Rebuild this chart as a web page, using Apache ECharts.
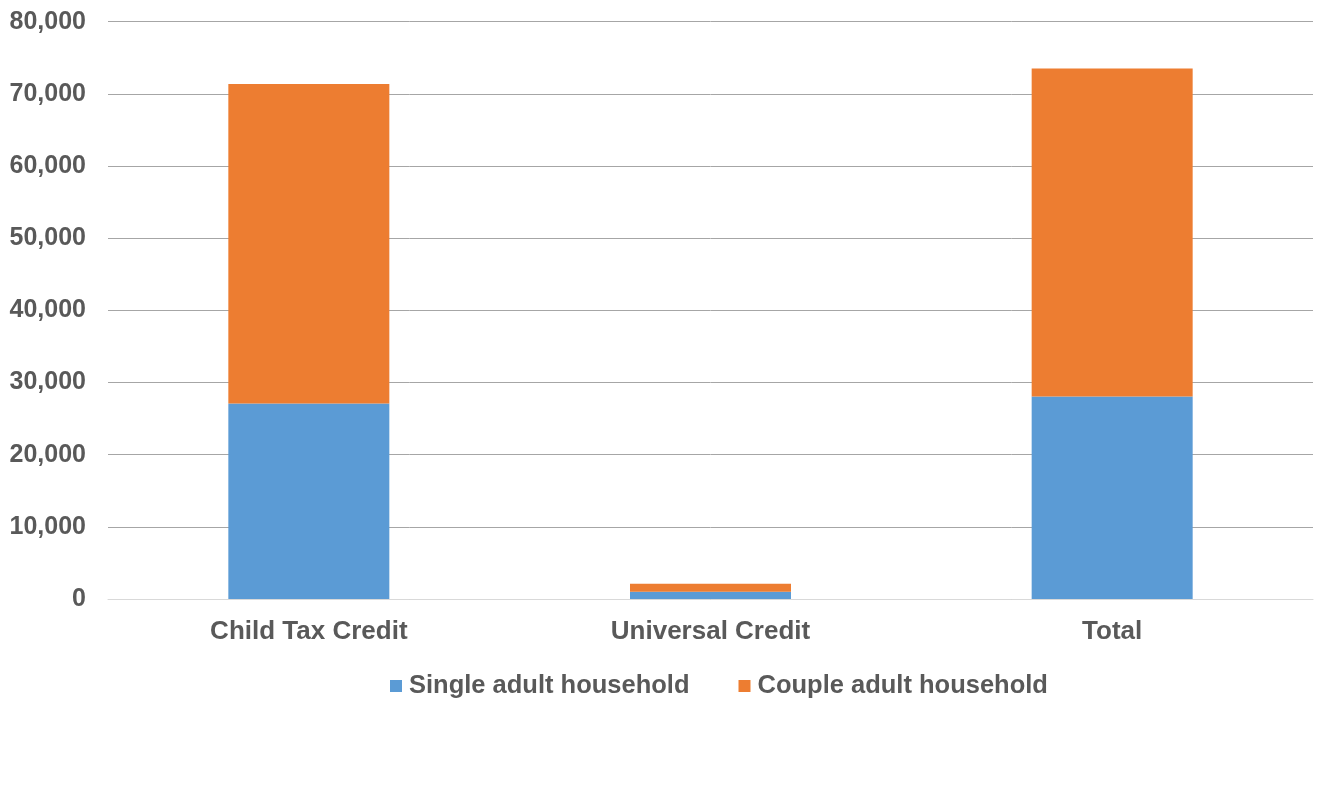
<!DOCTYPE html>
<html><head><meta charset="utf-8">
<script src="https://cdn.jsdelivr.net/npm/echarts@6/dist/echarts.min.js"></script>
<style>html,body{margin:0;padding:0;background:#fff}#c{width:1326px;height:785px}</style>
</head><body><div id="c"></div>
<script>
const categories = ["Child Tax Credit", "Universal Credit", "Total"];
const singleAdult = [27100, 1000, 28050];
const coupleAdult = [44250, 1100, 45450];
const seriesNames = ["Single adult household", "Couple adult household"];
const colors = ["#5b9bd5", "#ed7d31"];

const chart = echarts.init(document.getElementById('c'));
const font = "'Liberation Sans', Arial, sans-serif";
chart.setOption({
  animation: false,
  color: colors,
  grid: {left: 108, right: 13, top: 21.7, bottom: 186, containLabel: false},
  legend: {
    data: seriesNames, top: 668, left: 385,
    itemWidth: 12, itemHeight: 12, itemGap: 49, icon: 'rect',
    textStyle: {fontFamily: font, fontSize: 25.5, fontWeight: 'bold', color: '#595959', padding: [0,0,0,2]}
  },
  xAxis: {
    type: 'category', data: categories,
    axisLine: {lineStyle: {color: '#d9d9d9'}}, axisTick: {show: false},
    axisLabel: {fontFamily: font, fontSize: 26, fontWeight: 'bold', color: '#595959', margin: 20}
  },
  yAxis: {
    type: 'value', min: 0, max: 80000, interval: 10000,
    axisLine: {show: false}, axisTick: {show: false},
    splitLine: {lineStyle: {color: '#a6a6a6', width: 1}},
    axisLabel: {fontFamily: font, fontSize: 25, fontWeight: 'bold', color: '#595959', margin: 22,
      formatter: v => v.toLocaleString('en-US')}
  },
  series: [
    {name: seriesNames[0], type: 'bar', stack: 's', data: singleAdult, barWidth: 161},
    {name: seriesNames[1], type: 'bar', stack: 's', data: coupleAdult, barWidth: 161}
  ]
});
</script></body></html>
